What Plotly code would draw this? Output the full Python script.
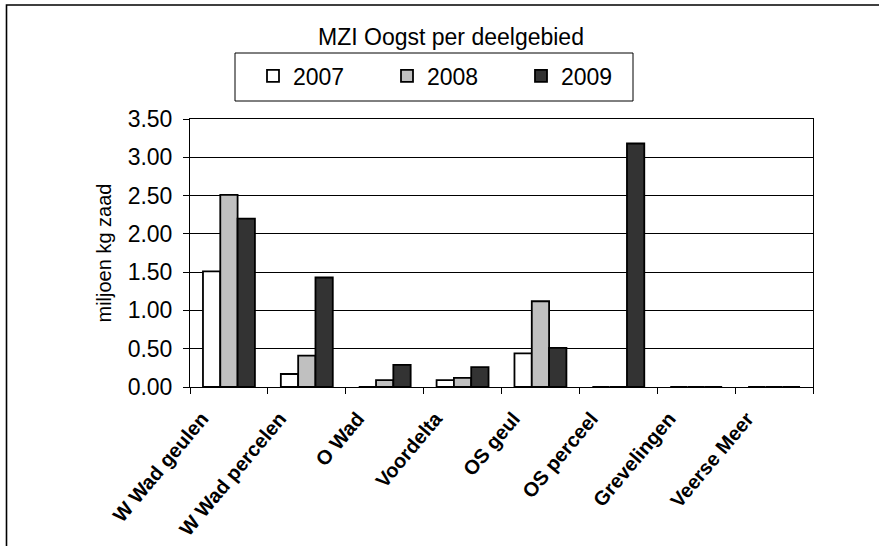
import plotly.graph_objects as go

categories = ["W Wad geulen", "W Wad percelen", "O Wad", "Voordelta", "OS geul",
              "OS perceel", "Grevelingen", "Veerse Meer"]
years = ["2007", "2008", "2009"]
v2007 = [1.51, 0.17, 0.0, 0.09, 0.44, 0.0, 0.0, 0.0]
v2008 = [2.51, 0.41, 0.09, 0.12, 1.12, 0.0, 0.0, 0.0]
v2009 = [2.20, 1.43, 0.29, 0.26, 0.51, 3.18, 0.0, 0.0]
colors = ["#FFFFFF", "#C0C0C0", "#333333"]
yticks = [0, 0.5, 1.0, 1.5, 2.0, 2.5, 3.0, 3.5]

FONT = "Liberation Sans, Arial, sans-serif"
W, H = 879, 546
# plot area in window pixels: x 190..813, y 119..387
L, T = 190, 119
pw, ph = 623, 268
R = W - L - pw
B = H - T - ph

def px_x(wx):
    return (wx - L) / pw

def px_y(wy):
    return (H - B - wy) / ph

fig = go.Figure()
for name, vals, c in zip(years, [v2007, v2008, v2009], colors):
    fig.add_trace(go.Bar(
        x=categories, y=vals, name=name,
        marker=dict(color=c, line=dict(color="#000000", width=1.8)),
    ))

fig.update_layout(
    width=W, height=H,
    margin=dict(l=L, r=R, t=T, b=B, autoexpand=False),
    paper_bgcolor="white", plot_bgcolor="white",
    font=dict(family=FONT, color="#000000"),
    barmode="group", bargap=0.333, bargroupgap=0.0,
    title=dict(text="MZI Oogst per deelgebied", x=px_x(451), xref="paper",
               xanchor="center", y=(H - 37) / H, yref="container", yanchor="middle",
               font=dict(size=23, family=FONT, color="#000000")),
    legend=dict(orientation="h", x=px_x(253), y=px_y(76), xanchor="left", yanchor="middle",
                borderwidth=0, bgcolor="rgba(0,0,0,0)",
                font=dict(size=23, family=FONT, color="#000000"),
                entrywidth=89, entrywidthmode="pixels", traceorder="normal",
                itemclick=False),
    showlegend=True,
)

fig.update_xaxes(
    type="category", tickangle=-50, tickson="boundaries",
    ticks="outside", ticklen=6, tickcolor="#000000",
    showline=True, linecolor="#000000", linewidth=1, mirror=True,
    tickfont=dict(size=20, family=FONT, color="#000000", weight="bold"),
    ticklabelshift=-27, ticklabelstandoff=11,
    showgrid=False, automargin=False,
)
fig.update_yaxes(
    range=[0, 3.5], tickvals=yticks, tickformat=".2f",
    ticks="outside", ticklen=6, tickcolor="#000000",
    showline=True, linecolor="#000000", linewidth=1, mirror=True,
    showgrid=True, gridcolor="#000000", gridwidth=1,
    tickfont=dict(size=23, family=FONT, color="#000000"),
    ticklabelstandoff=6,
    title=dict(text="miljoen kg zaad", font=dict(size=20, family=FONT, color="#000000"),
               standoff=10),
    zeroline=False, automargin=False,
)

# legend frame (window px 235..633 x 53..101)
fig.add_shape(type="rect", xref="paper", yref="paper",
              x0=px_x(235), x1=px_x(633), y0=px_y(101), y1=px_y(53),
              line=dict(color="#000000", width=1), fillcolor="white", layer="below")

# outer chart border (only top and left edges visible in the crop)
fig.add_shape(type="rect", xref="paper", yref="paper",
              x0=px_x(6.5), x1=px_x(950), y0=px_y(600), y1=px_y(5),
              line=dict(color="#000000", width=1.6), fillcolor="rgba(0,0,0,0)", layer="below")

page_fix = ("document.documentElement.style.overflow='hidden';"
            "document.body.style.overflow='hidden';"
            "document.body.style.margin='0';")

fig.write_html("out.html", post_script=page_fix, config={"displayModeBar": False})
